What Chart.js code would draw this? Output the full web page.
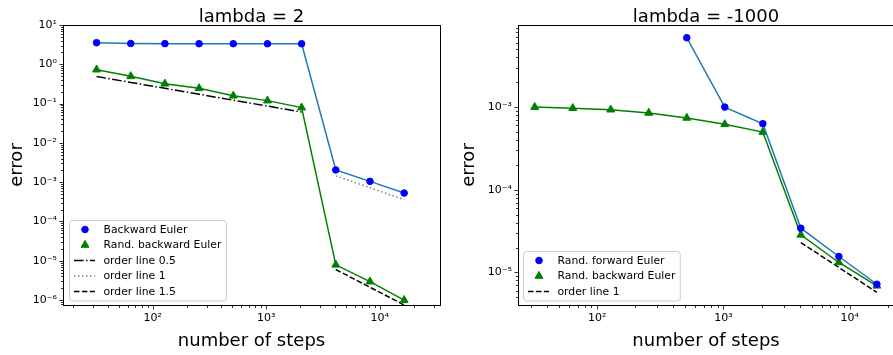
<!DOCTYPE html>
<html>
<head>
<meta charset="utf-8">
<script src="https://cdn.jsdelivr.net/npm/chart.js@4/dist/chart.umd.min.js"></script>
<style>
html, body { margin: 0; padding: 0; background: #fff; overflow: hidden; width: 893px; height: 355px; }
#left { position: absolute; left: 0; top: 0; }
#right { position: absolute; left: 450px; top: 0; }
</style>
</head>
<body>
<canvas id="left" width="450" height="355"></canvas>
<canvas id="right" width="460" height="355"></canvas>
<script>
const steps = [32, 64, 128, 256, 512, 1024, 2048, 4096, 8192, 16384];

// lambda = 2
const backwardEuler = [3.55, 3.38, 3.35, 3.34, 3.34, 3.33, 3.33, 2.05e-3, 1.05e-3, 5.3e-4];
const randBackward2 = [0.73, 0.495, 0.32, 0.245, 0.158, 0.119, 0.079, 7.9e-6, 2.95e-6, 1.0e-6];
const orderHalfSteps = [32, 64, 128, 256, 512, 1024, 2048];
const orderHalf = [0.49, 0.345, 0.245, 0.173, 0.122, 0.0865, 0.061];
const orderTailSteps = [4096, 8192, 16384];
const orderOne2 = [1.45e-3, 7.25e-4, 3.6e-4];
const orderOneHalf = [6.0e-6, 2.12e-6, 7.5e-7];

// lambda = -1000
const randForward = [null, null, null, null, 6.9e-3, 1.0e-3, 6.3e-4, 3.43e-5, 1.56e-5, 7.2e-6];
const randBackward1000 = [1.0e-3, 9.7e-4, 9.3e-4, 8.5e-4, 7.4e-4, 6.2e-4, 4.99e-4, 2.85e-5, 1.32e-5, 6.9e-6];
const orderOne1000 = [2.3e-5, 1.15e-5, 5.75e-6];

Chart.defaults.font.family = "'DejaVu Sans', sans-serif";
Chart.defaults.color = '#000';

const sup = {'-': '\u207B', '0': '\u2070', '1': '\u00B9', '2': '\u00B2', '3': '\u00B3',
  '4': '\u2074', '5': '\u2075', '6': '\u2076', '7': '\u2077', '8': '\u2078', '9': '\u2079'};

function powLabel(v) {
  const l = Math.log10(v);
  const e = Math.round(l);
  if (Math.abs(l - e) > 1e-9) return '';
  return '10' + String(e).split('').map(c => sup[c]).join('');
}

function logTicks(scale) {
  const lo = Math.floor(Math.log10(scale.min)), hi = Math.ceil(Math.log10(scale.max));
  const out = [];
  for (let e = lo; e <= hi; e++) {
    for (let m = 1; m < 10; m++) {
      const v = m * Math.pow(10, e);
      if (v >= scale.min * 0.9999 && v <= scale.max * 1.0001) out.push({value: v, major: m === 1});
    }
  }
  scale.ticks = out;
}

function pts(xs, ys) {
  return xs.map((x, i) => ({x: x, y: ys[i]}));
}

// frame, outward tick marks and title
const frame = {
  id: 'frame',
  afterDraw(chart, args, opts) {
    const ctx = chart.ctx, a = chart.chartArea;
    const L = Math.round(a.left) + 0.5, R = Math.round(a.right) + 0.5;
    const T = Math.round(a.top) + 0.5, B = Math.round(a.bottom) + 0.5;
    ctx.save();
    ctx.strokeStyle = '#000';
    ctx.lineWidth = 1;
    ctx.strokeRect(L, T, R - L, B - T);
    ctx.lineWidth = 0.8;
    chart.scales.x.ticks.forEach(t => {
      const p = Math.round(chart.scales.x.getPixelForValue(t.value)) + 0.5;
      const len = t.major ? 4 : 2.5;
      ctx.beginPath();
      ctx.moveTo(p, B);
      ctx.lineTo(p, B + len);
      ctx.stroke();
    });
    chart.scales.y.ticks.forEach(t => {
      const p = Math.round(chart.scales.y.getPixelForValue(t.value)) + 0.5;
      const len = t.major ? 4 : 2.5;
      ctx.beginPath();
      ctx.moveTo(L, p);
      ctx.lineTo(L - len, p);
      ctx.stroke();
    });
    ctx.fillStyle = '#000';
    ctx.font = "18px 'DejaVu Sans'";
    ctx.textAlign = 'center';
    ctx.textBaseline = 'alphabetic';
    ctx.fillText(opts.text, (a.left + a.right) / 2, 22);
    ctx.restore();
  }
};

function drawMarker(ctx, ds, x, y) {
  ctx.fillStyle = ds.pointBackgroundColor;
  ctx.strokeStyle = ds.pointBorderColor;
  ctx.lineWidth = ds.pointBorderWidth;
  ctx.beginPath();
  if (ds.pointStyle === 'triangle') {
    const r = ds.pointRadius;
    ctx.moveTo(x, y - r);
    ctx.lineTo(x + r * 0.866, y + r * 0.5);
    ctx.lineTo(x - r * 0.866, y + r * 0.5);
    ctx.closePath();
  } else {
    ctx.arc(x, y, ds.pointRadius, 0, Math.PI * 2);
  }
  ctx.fill();
  ctx.stroke();
}

// legend box inside the lower left corner of the axes
const boxLegend = {
  id: 'boxLegend',
  afterDraw(chart, args, opts) {
    const ctx = chart.ctx, a = chart.chartArea;
    const items = chart.data.datasets.filter(d => d.label);
    ctx.save();
    ctx.font = "10.8px 'DejaVu Sans'";
    let tw = 0;
    items.forEach(d => { tw = Math.max(tw, ctx.measureText(d.label).width); });
    const w = 34 + tw + 5;
    const h = 9 + (items.length - 1) * 15.5 + 9.5;
    const x = Math.round(a.left + opts.left) + 0.5;
    const y = Math.round(a.bottom - opts.bottom - h) + 0.5;
    ctx.fillStyle = 'rgba(255,255,255,0.8)';
    ctx.strokeStyle = '#cccccc';
    ctx.lineWidth = 1;
    ctx.beginPath();
    ctx.roundRect(x, y, w, h, 3);
    ctx.fill();
    ctx.stroke();
    items.forEach((d, i) => {
      const cy = y + 9 + i * 15.5;
      if (d.legendMarkerOnly) {
        drawMarker(ctx, d, x + 15.5, cy);
      } else {
        ctx.strokeStyle = d.borderColor;
        ctx.lineWidth = d.borderWidth;
        ctx.setLineDash(d.borderDash || []);
        ctx.beginPath();
        ctx.moveTo(x + 4.5, cy);
        ctx.lineTo(x + 25.5, cy);
        ctx.stroke();
        ctx.setLineDash([]);
      }
      ctx.fillStyle = '#000';
      ctx.textAlign = 'left';
      ctx.textBaseline = 'middle';
      ctx.fillText(d.label, x + 34, cy + 0.5);
    });
    ctx.restore();
  }
};

function scales(o) {
  return {
    x: {
      type: 'logarithmic', min: o.xMin, max: o.xMax, bounds: 'data',
      afterBuildTicks: logTicks,
      afterFit: s => { s.height = 50; },
      grid: {display: false, drawTicks: false},
      border: {display: false},
      ticks: {autoSkip: false, maxRotation: 0, padding: 7, font: {size: 11}, callback: v => powLabel(v)},
      title: {display: true, text: 'number of steps', font: {size: 18}, padding: {top: 0, bottom: 3}}
    },
    y: {
      type: 'logarithmic', min: o.yMin, max: o.yMax, bounds: 'data',
      afterBuildTicks: logTicks,
      afterFit: s => { s.width = o.yWidth; },
      grid: {display: false, drawTicks: false},
      border: {display: false},
      ticks: {autoSkip: false, padding: 6, font: {size: 11}, callback: v => powLabel(v)},
      title: {display: true, text: 'error', font: {size: 18}, padding: {top: o.yTitlePad, bottom: 0}}
    }
  };
}

function markerSet(label, ys, lineColor, markColor, style, r) {
  return {
    label: label, data: pts(steps, ys), legendMarkerOnly: true,
    borderColor: lineColor, borderWidth: 1.5,
    pointStyle: style, pointRadius: r, pointBackgroundColor: markColor,
    pointBorderColor: markColor, pointBorderWidth: 1
  };
}

function orderSet(label, xs, ys, color, dash) {
  return {
    label: label, data: pts(xs, ys),
    borderColor: color, borderWidth: 1.5, borderDash: dash, pointRadius: 0
  };
}

new Chart(document.getElementById('left'), {
  type: 'line',
  data: {
    datasets: [
      markerSet('Backward Euler', backwardEuler, '#1f77b4', '#0000ff', 'circle', 3.3),
      markerSet('Rand. backward Euler', randBackward2, '#008000', '#008000', 'triangle', 4.6),
      orderSet('order line 0.5', orderHalfSteps, orderHalf, '#000', [9.6, 2.4, 1.5, 2.4]),
      orderSet('order line 1', orderTailSteps, orderOne2, '#808080', [1.5, 2.5]),
      orderSet('order line 1.5', orderTailSteps, orderOneHalf, '#000', [5.5, 2.4])
    ]
  },
  options: {
    responsive: false, animation: false, events: [],
    layout: {padding: {top: 25, left: 0, right: 10, bottom: 0}},
    scales: scales({xMin: 16.2, xMax: 33900, yMin: 7.5e-7, yMax: 10, yWidth: 63, yTitlePad: 7}),
    plugins: {
      legend: {display: false}, tooltip: {enabled: false},
      frame: {text: 'lambda = 2'},
      boxLegend: {left: 6, bottom: 5}
    }
  },
  plugins: [frame, boxLegend]
});

new Chart(document.getElementById('right'), {
  type: 'line',
  data: {
    datasets: [
      markerSet('Rand. forward Euler', randForward, '#1f77b4', '#0000ff', 'circle', 3.3),
      markerSet('Rand. backward Euler', randBackward1000, '#008000', '#008000', 'triangle', 4.6),
      orderSet('order line 1', orderTailSteps, orderOne1000, '#000', [5.5, 2.4])
    ]
  },
  options: {
    responsive: false, animation: false, events: [],
    layout: {padding: {top: 25, left: 0, right: 16, bottom: 0}},
    scales: scales({xMin: 23.6, xMax: 22390, yMin: 4.04e-6, yMax: 9.84e-3, yWidth: 68, yTitlePad: 9}),
    plugins: {
      legend: {display: false}, tooltip: {enabled: false},
      frame: {text: 'lambda = -1000'},
      boxLegend: {left: 5, bottom: 5}
    }
  },
  plugins: [frame, boxLegend]
});
</script>
</body>
</html>
